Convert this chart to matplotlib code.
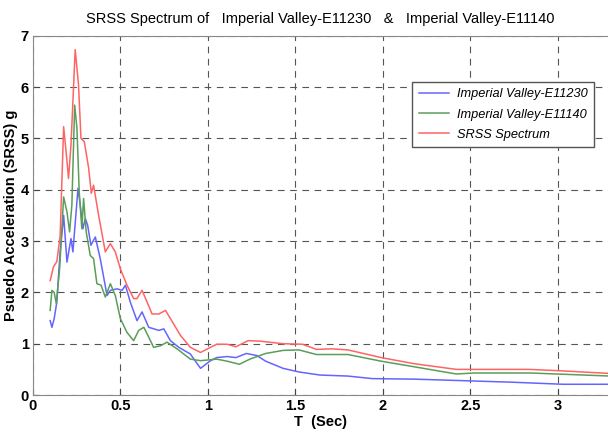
import matplotlib
matplotlib.use("Agg")
import matplotlib.pyplot as plt

plt.rcParams["font.family"] = ["Liberation Sans", "DejaVu Sans"]

# Period (s) and spectral values (g)
t_blue = [0.099, 0.109, 0.122, 0.137, 0.156, 0.176, 0.195, 0.218, 0.229, 0.258, 0.271, 0.286,
          0.300, 0.313, 0.332, 0.357, 0.385, 0.424, 0.443, 0.481, 0.510, 0.529, 0.557, 0.595,
          0.624, 0.662, 0.720, 0.748, 0.786, 0.834, 0.900, 0.958, 1.015, 1.05, 1.11, 1.16,
          1.22, 1.28, 1.33, 1.43, 1.52, 1.64, 1.80, 1.94, 2.18, 2.46, 2.74, 3.03, 3.30]
sa_blue = [1.45, 1.32, 1.49, 1.81, 2.79, 3.50, 2.59, 3.05, 2.79, 4.03, 3.70, 3.24,
           3.44, 3.31, 2.92, 3.08, 2.66, 1.94, 2.04, 2.07, 2.04, 2.14, 1.81, 1.45,
           1.62, 1.32, 1.26, 1.29, 1.06, 0.93, 0.80, 0.52, 0.67, 0.73, 0.75, 0.73,
           0.81, 0.77, 0.66, 0.52, 0.45, 0.39, 0.37, 0.32, 0.31, 0.28, 0.25, 0.21, 0.21]

t_green = [0.099, 0.109, 0.122, 0.134, 0.153, 0.176, 0.195, 0.210, 0.223, 0.239, 0.252, 0.265,
           0.280, 0.290, 0.305, 0.328, 0.347, 0.366, 0.390, 0.414, 0.443, 0.471, 0.500, 0.538,
           0.576, 0.605, 0.634, 0.662, 0.690, 0.729, 0.767, 0.824, 0.900, 0.958, 1.05, 1.11,
           1.18, 1.24, 1.33, 1.43, 1.52, 1.62, 1.80, 1.99, 2.18, 2.42, 2.52, 2.84, 3.30]
sa_green = [1.65, 2.04, 2.00, 1.78, 2.46, 3.86, 3.57, 3.18, 3.70, 5.65, 5.20, 3.96,
            3.24, 3.83, 3.18, 2.72, 2.66, 2.17, 2.14, 1.91, 2.17, 1.94, 1.49, 1.22,
            1.06, 1.26, 1.32, 1.13, 0.93, 0.96, 1.03, 0.90, 0.70, 0.67, 0.70, 0.66,
            0.60, 0.70, 0.81, 0.87, 0.88, 0.79, 0.79, 0.66, 0.55, 0.41, 0.43, 0.43, 0.37]

t_red = [0.099, 0.118, 0.137, 0.156, 0.176, 0.190, 0.204, 0.218, 0.242, 0.261, 0.275, 0.294,
         0.319, 0.334, 0.347, 0.376, 0.414, 0.443, 0.471, 0.500, 0.538, 0.576, 0.595, 0.624,
         0.653, 0.681, 0.720, 0.758, 0.786, 0.844, 0.900, 0.958, 1.05, 1.11, 1.16, 1.23,
         1.30, 1.43, 1.54, 1.62, 1.71, 1.80, 1.99, 2.18, 2.42, 2.84, 3.03, 3.30]
sa_red = [2.23, 2.50, 2.60, 3.10, 5.23, 4.74, 4.22, 4.87, 6.73, 6.05, 5.00, 4.94,
          4.42, 3.93, 4.09, 3.50, 2.79, 2.95, 2.79, 2.46, 2.14, 1.88, 1.88, 2.04,
          1.81, 1.58, 1.58, 1.65, 1.49, 1.16, 0.93, 0.83, 0.99, 0.99, 0.94, 1.06,
          1.05, 1.00, 0.99, 0.89, 0.90, 0.88, 0.73, 0.61, 0.50, 0.50, 0.47, 0.42]

labels = ["Imperial Valley-E11230", "Imperial Valley-E11140", "SRSS Spectrum"]
xticks = [0, 0.5, 1, 1.5, 2, 2.5, 3]
xticklabels = ["0", "0.5", "1", "1.5", "2", "2.5", "3"]
yticks = [0, 1, 2, 3, 4, 5, 6, 7]

fig = plt.figure(figsize=(6.08, 4.37), dpi=100)
ax = fig.add_axes([0.054, 0.096, 0.946, 0.822])

ax.plot(t_blue, sa_blue, color="#6464ff", lw=1.1, label=labels[0])
ax.plot(t_green, sa_green, color="#5a9e5a", lw=1.1, label=labels[1])
ax.plot(t_red, sa_red, color="#ff6464", lw=1.1, label=labels[2])

ax.set_xlim(0, 3.286)
ax.set_ylim(0, 7)
ax.set_xticks(xticks)
ax.set_xticklabels(xticklabels)
ax.set_yticks(yticks)
for lab in ax.get_xticklabels() + ax.get_yticklabels():
    lab.set_fontweight("bold")
    lab.set_fontsize(10.5)
ax.tick_params(direction="in", length=4, color="#444444", pad=3)
ax.grid(True, linestyle=(0, (6, 5)), color="#555555", lw=0.8)
for s in ["left", "bottom", "top"]:
    ax.spines[s].set_color("#888888")
ax.spines["right"].set_visible(False)

ax.set_xlabel("T  (Sec)", fontsize=10.5, fontweight="bold", labelpad=1)
ax.set_ylabel("Psuedo Acceleration (SRSS) g", fontsize=10.5, fontweight="bold", labelpad=2)
ax.set_title("SRSS Spectrum of   Imperial Valley-E11230   &   Imperial Valley-E11140",
             fontsize=10.5, pad=9)

leg = ax.legend(loc="upper left", bbox_to_anchor=(0.66, 0.872), borderaxespad=0,
                fancybox=False, prop={"style": "italic", "size": 9.2}, handlelength=2.4,
                handletextpad=0.6, borderpad=0.5, labelspacing=0.65, framealpha=1)
leg.get_frame().set_edgecolor("#555555")

fig.savefig("out.png", dpi=100)
